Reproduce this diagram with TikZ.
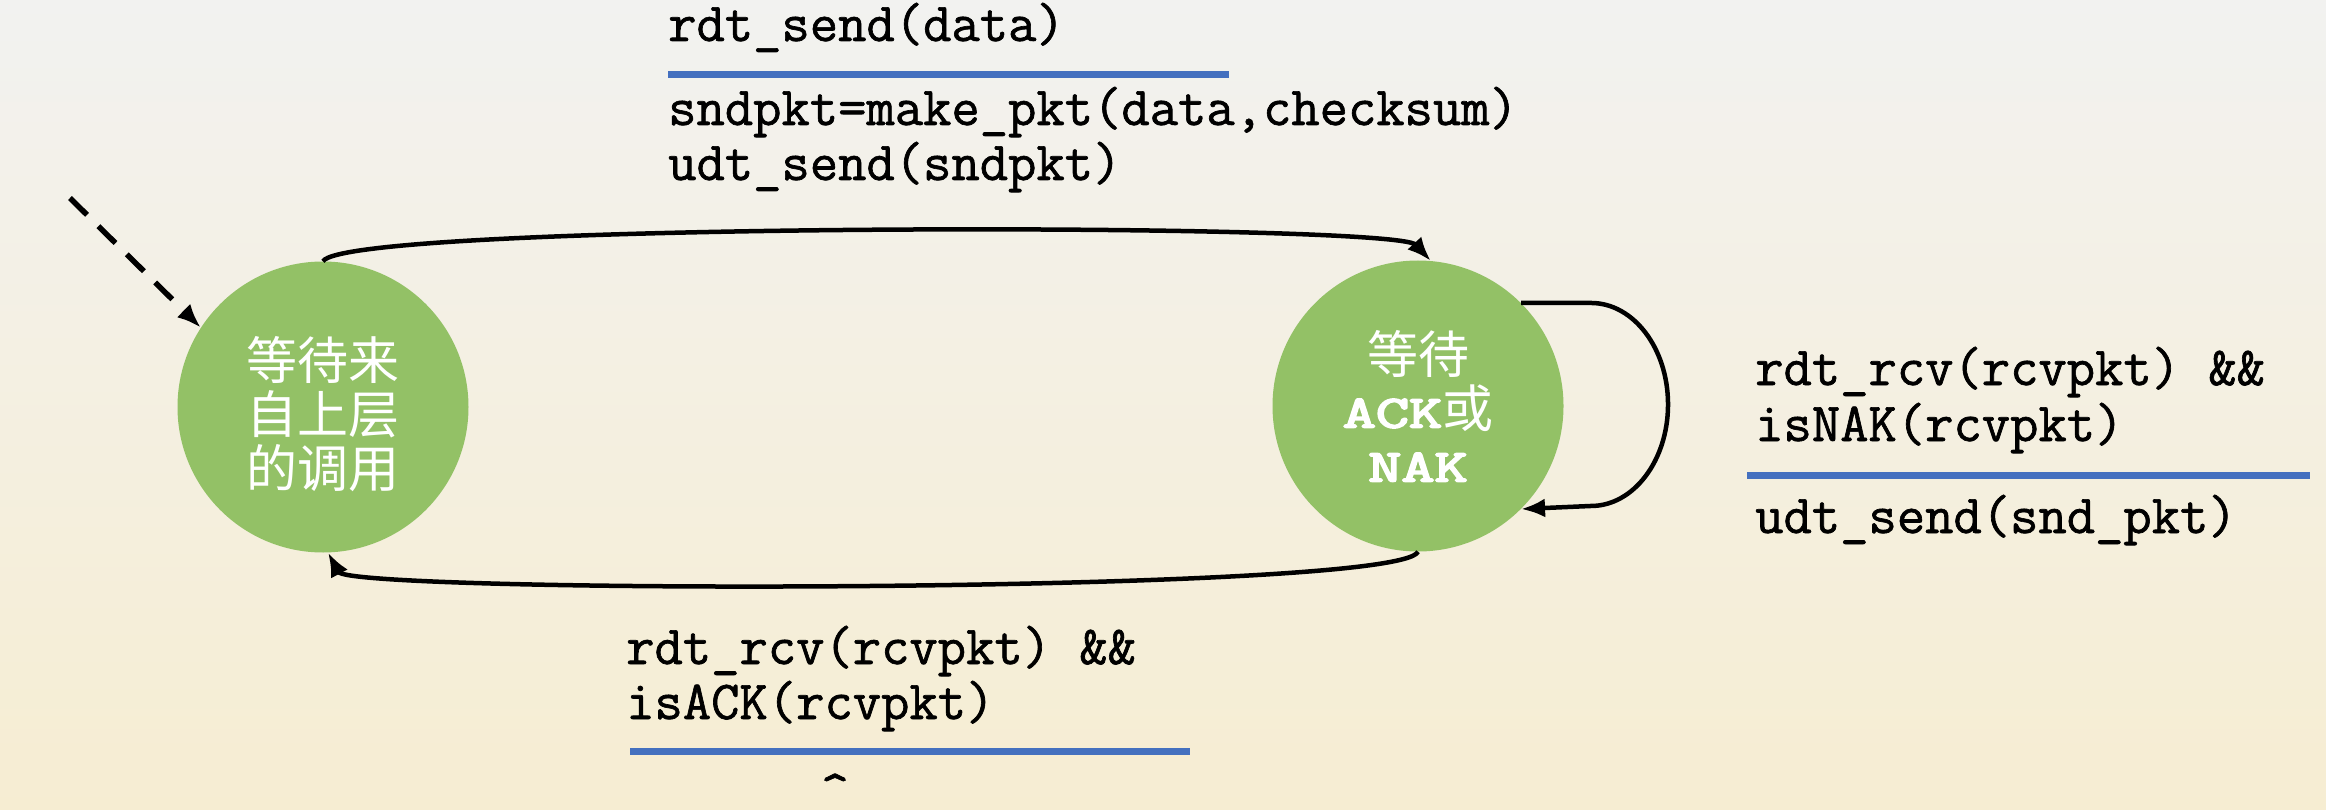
\documentclass[tikz,border=0pt]{standalone}
\usepackage{fontspec}
\newfontfamily\cjk{Noto Sans CJK SC}
\newfontfamily\code{Latin Modern Mono}[FakeBold=1.2]
\newfontfamily\codebold{Latin Modern Mono}[FakeBold=3.5]
\usepackage{graphicx}
\usetikzlibrary{arrows.meta,positioning,calc}
\definecolor{Leaf}{HTML}{93C166}
\definecolor{Rule}{HTML}{4470BF}
\definecolor{TopBg}{HTML}{F2F2F0}
\definecolor{MidBg}{HTML}{FBF6EA}
\definecolor{LowBg}{HTML}{F6EDD2}
\newcommand{\wide}[1]{\scalebox{1.4}[1]{\codebold\fontsize{46}{53}\selectfont #1}}
\tikzset{
  arr/.style={-{Latex[length=24pt,width=19pt]},line width=4.5pt,draw=black},
  dasharr/.style={arr,line width=5.5pt,dash pattern=on 24pt off 16pt},
  state/.style={circle,fill=Leaf,minimum size=291pt,inner sep=0pt,text=white,align=center,font=\cjk\fontsize{51}{54}\selectfont},
  lbl/.style={anchor=base west,inner sep=0pt,font=\code\fontsize{55}{55}\selectfont},
  rule/.style={draw=Rule,line width=7pt}
}
\begin{document}
\begin{tikzpicture}[x=1pt,y=-1pt]
  \fill[top color=TopBg,middle color=MidBg,bottom color=LowBg] (0,0) rectangle (2326,810);
  \useasboundingbox (0,0) rectangle (2326,810);

  % states
  \node[state] (wl) at (323,407) {\rule{0pt}{58pt}等待来\\自上层\\的调用};
  \node[state] (wa) at (1418,406) {等待\\\wide{ACK}或\\\wide{NAK}};
  \coordinate (init) at (70,198);

  % transitions
  \draw[dasharr] (init) -- (wl.147);
  \draw[arr] (wl.north) .. controls (345,222) and (1395,222) .. (wa.85);
  \draw[arr] (wa.south) .. controls (1400,594) and (350,594) .. (wl.-88);
  \draw[arr] (wa.45) -- ++(70,0) arc[start angle=-90,end angle=90,x radius=77,y radius=101.5] -- (wa.-45);

  % labels
  \node[lbl] (sendev) at (668,41) {rdt\_send(data)};
  \draw[rule] ($(sendev.base west)+(0,34)$) -- ++(561,0);
  \node[lbl] (sendact) at (668,125) {sndpkt=make\_pkt(data,checksum)};
  \node[lbl] (sendact2) at ($(sendact.base west)+(0,55)$) {udt\_send(sndpkt)};

  \node[lbl] (ackev) at (626,664) {rdt\_rcv(rcvpkt) \&\&};
  \node[lbl] (ackev2) at ($(ackev.base west)+(0,55)$) {isACK(rcvpkt)};
  \draw[rule] ($(ackev2.base west)+(4,32)$) -- ++(560,0);
  \node[lbl,anchor=base] (ackact) at (835,800) {\smash{\raisebox{-8pt}{\textasciicircum}}};

  \node[lbl] (nakev) at (1755,385) {rdt\_rcv(rcvpkt) \&\&};
  \node[lbl] (nakev2) at ($(nakev.base west)+(0,56)$) {isNAK(rcvpkt)};
  \draw[rule] ($(nakev2.base west)+(-8,34)$) -- ++(563,0);
  \node[lbl] (nakact) at (1755,533) {udt\_send(snd\_pkt)};
\end{tikzpicture}
\end{document}
